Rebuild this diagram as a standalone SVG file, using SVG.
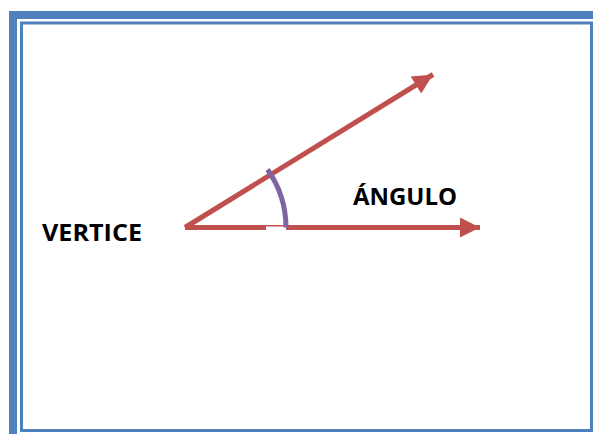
<svg xmlns="http://www.w3.org/2000/svg" width="593" height="434" viewBox="0 0 593 434">
<defs>
<style>
.frame{fill:#4f81bd}
.inner{fill:none;stroke:#4f81bd;stroke-width:3}
.ray{stroke:#c0504d;stroke-width:5;fill:none}
.lbl{font-family:"Open Sans","Liberation Sans",Arial,sans-serif;font-weight:bold;font-size:22.5px;fill:#000}
</style>
<marker id="ah" viewBox="0 0 10 10" refX="10" refY="5" markerWidth="4.4" markerHeight="4" orient="auto" markerUnits="strokeWidth">
<path d="M0,0 L10,5 L0,10 Z" fill="#c0504d"/>
</marker>
</defs>
<rect width="593" height="434" fill="#fff"/>
<g id="frame">
<rect class="frame" x="9" y="11" width="584" height="8"/>
<rect class="frame" x="9" y="11" width="8" height="423"/>
<rect class="inner" x="21.5" y="23" width="570" height="407.5"/>
</g>
<g id="connectors">
<line class="ray" x1="185" y1="227.5" x2="433" y2="74.5" marker-end="url(#ah)"/>
<line class="ray" x1="185" y1="227.5" x2="480" y2="227.5" marker-end="url(#ah)"/>
</g>
<g id="angle">
<rect x="266" y="226.5" width="20" height="3.5" fill="#fff"/>
<path d="M267.5,169.5 A101,101 0 0 1 286,227.5" fill="none" stroke="#8064a2" stroke-width="5"/>
</g>
<g id="vertice">
<text class="lbl" x="42" y="241" textLength="100" lengthAdjust="spacingAndGlyphs">VERTICE</text>
</g>
<g id="angulo">
<text class="lbl" x="353" y="205" textLength="104" lengthAdjust="spacingAndGlyphs">ÁNGULO</text>
</g>
</svg>
